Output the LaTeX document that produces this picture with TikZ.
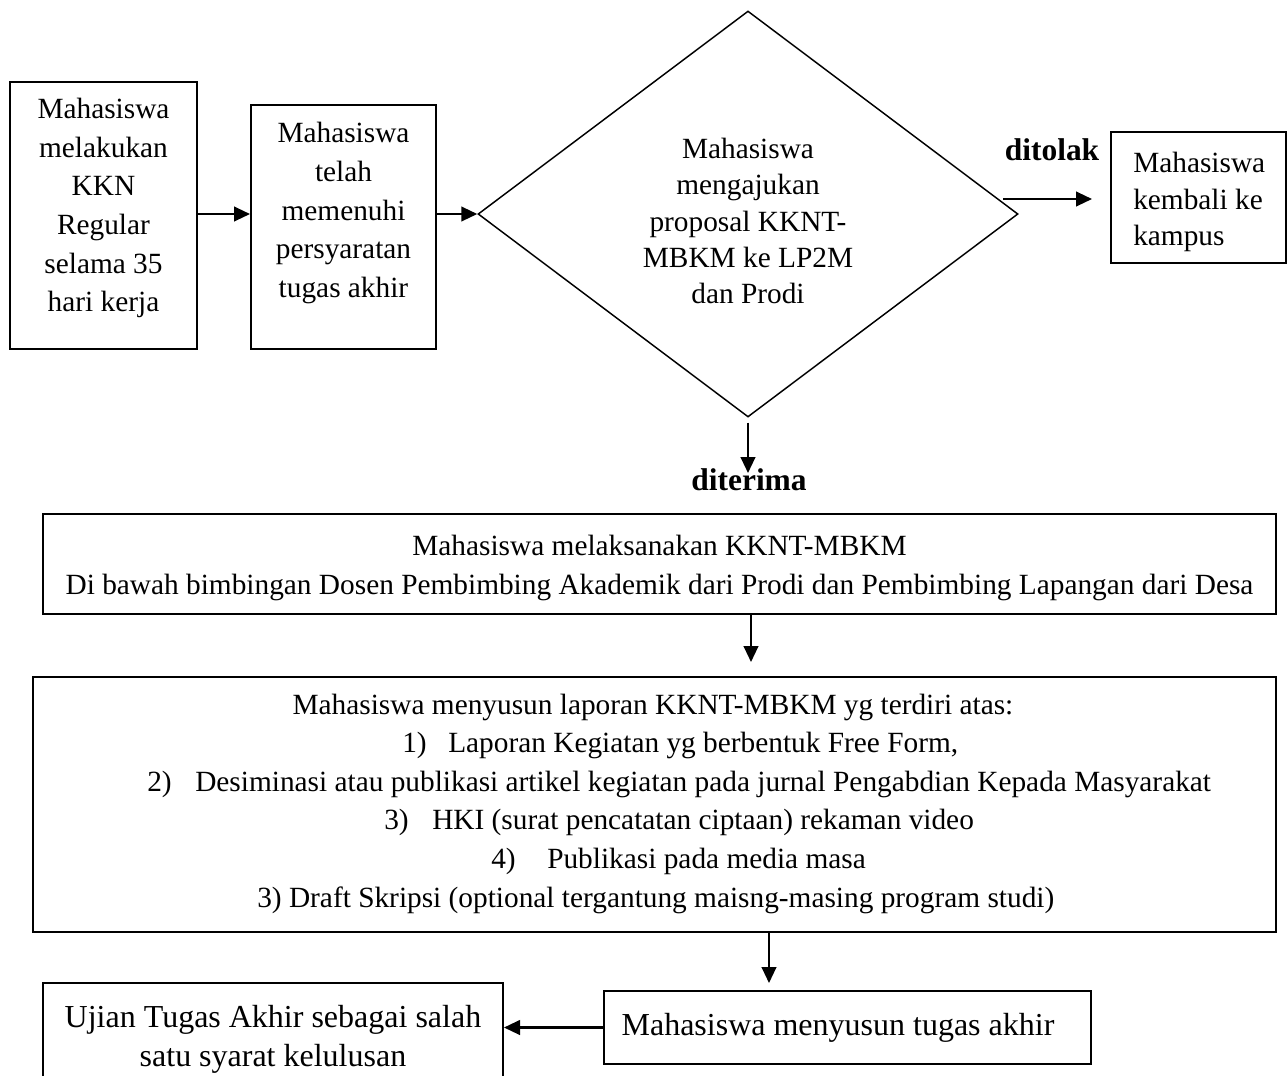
\documentclass[tikz,border=0pt]{standalone}
\usepackage{fontspec}
\setmainfont{Liberation Serif}
\usetikzlibrary{arrows.meta,shapes.geometric,fit}
\newcommand\fsn{\fontsize{22pt}{29pt}\selectfont}
\newcommand\fsd{\fontsize{22pt}{27.2pt}\selectfont}
\newcommand\fsb{\fontsize{24pt}{29.25pt}\selectfont}
\newcommand\fsl{\fontsize{23.6pt}{28pt}\selectfont\bfseries}
\begin{document}
\begin{tikzpicture}[x=0.75pt,y=-0.75pt,
  box/.style={draw,line width=1.5pt,inner sep=0pt},
  txt/.style={inner sep=0pt,align=center,font=\fsn},
  arr/.style={line width=1.6pt,-{Triangle[length=12pt,width=11pt]}},
  lbl/.style={inner sep=0pt,font=\fsl,anchor=base}]
\useasboundingbox (0,0) rectangle (1288,1075);
% boxes
\node[box,fit={(10,82)(197,349)}] (b1) {};
\node[box,fit={(251,105)(436,349)}] (b2) {};
\node[draw,line width=1.1pt,shape=diamond,minimum width=540*0.75pt,minimum height=406*0.75pt,inner sep=0pt] (d) at (748,214) {};
\node[box,fit={(1111,132)(1286,263)}] (b3) {};
\node[box,fit={(43,514)(1276,614)}] (b4) {};
\node[box,fit={(33,677)(1276,932)}] (b5) {};
\node[box,fit={(604,991)(1091,1064)}] (b6) {};
\node[box,fit={(43,983)(503,1110)}] (b7) {};
% texts
\node[txt] (t1) at (103.5,208) {Mahasiswa\\melakukan\\KKN\\Regular\\selama 35\\hari kerja};
\node[txt] (t2) at (343.5,213) {Mahasiswa\\telah\\memenuhi\\persyaratan\\tugas akhir};
\node[txt,font=\fsd] (td) at (748,221) {Mahasiswa\\mengajukan\\proposal KKNT-\\MBKM ke LP2M\\dan Prodi};
\node[txt,font=\fsd,align=left,anchor=west] (t3) at (1133,202) {Mahasiswa\\kembali ke\\kampus};
\node[lbl] (lt) at (1052,160) {ditolak};
\node[lbl] (lr) at (749,490) {diterima};
\node[txt] (t4) at (659.5,568) {Mahasiswa melaksanakan KKNT-MBKM\\Di bawah bimbingan Dosen Pembimbing Akademik dari Prodi dan Pembimbing Lapangan dari Desa};
\node[txt,anchor=base] (l1) at (653,714) {Mahasiswa menyusun laporan KKNT-MBKM yg terdiri atas:};
\node[txt,anchor=base west] (l2) at (402,752.6) {\makebox[34.5pt][l]{1)}Laporan Kegiatan yg berbentuk Free Form,};
\node[txt,anchor=base west] (l3) at (147,791.2) {\makebox[36pt][l]{2)}Desiminasi atau publikasi artikel kegiatan pada jurnal Pengabdian Kepada Masyarakat};
\node[txt,anchor=base west] (l4) at (384,829.8) {\makebox[36pt][l]{3)}HKI (surat pencatatan ciptaan) rekaman video};
\node[txt,anchor=base west] (l5) at (491,868.4) {\makebox[42pt][l]{4)}Publikasi pada media masa};
\node[txt,anchor=base west] (l6) at (257,907) {3) Draft Skripsi (optional tergantung maisng-masing program studi)};
\node[txt,font=\fsb] (t6) at (838,1028) {Mahasiswa menyusun tugas akhir};
\node[txt,font=\fsb] (t7) at (273,1039) {Ujian Tugas Akhir sebagai salah\\satu syarat kelulusan};
% connectors
\draw[arr] (b1.east|-d.west) -- (b2.west|-d.west);
\draw[arr] (b2.east|-d.west) -- (d.west);
\coordinate (rj0) at (1003,199);
\coordinate (rj1) at (1092,199);
\draw[arr] (rj0) -- (rj1);
\coordinate (dn) at (748,473);
\draw[arr] ([yshift=-3.75pt]d.south) -- (dn);
\coordinate (a1) at (751,662);
\draw[arr] (a1|-b4.south) -- (a1);
\coordinate (a2) at (769,983);
\draw[arr] (a2|-b5.south) -- (a2);
\draw[arr] (b6.west) -- (b6.west-|b7.east);
\end{tikzpicture}
\end{document}
